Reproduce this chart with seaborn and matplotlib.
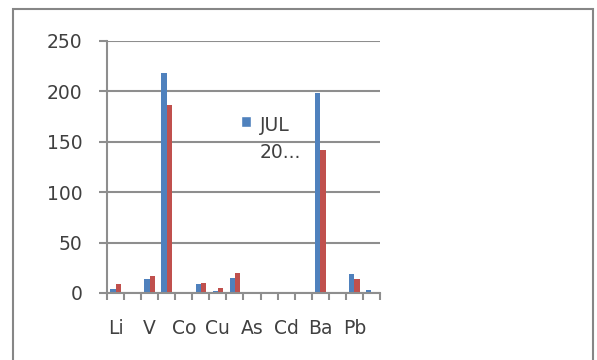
import numpy as np
import pandas as pd
import matplotlib
matplotlib.use("Agg")
import matplotlib.pyplot as plt
from matplotlib.patches import Patch, Rectangle
import seaborn as sns

# ---- data ----
elements = ["Li", "Be", "V", "Mn", "Co", "Ni", "Cu", "Zn",
            "As", "Se", "Cd", "Sb", "Ba", "Tl", "Pb", "U"]
series_1 = [4, 1, 14, 218, 1, 9, 2, 15, 1, 1, 1, 1, 198, 1, 19, 3]
series_2 = [9, 1, 17, 187, 1, 10, 5, 20, 1, 1, 1, 1, 142, 1, 14, 1]
series_names = ["JUL 20...", "Series 2"]
legend_label = "JUL\n20..."
y_ticks = [0, 50, 100, 150, 200, 250]

df = pd.DataFrame({
    "element": elements * 2,
    "value": series_1 + series_2,
    "series": [series_names[0]] * len(elements) + [series_names[1]] * len(elements),
})

BLUE = "#4F81BD"
RED = "#C0504D"
GRID = "#8E8E8E"
TXT = "#404040"

sns.set_theme(style="white")
plt.rcParams["font.family"] = ["DejaVu Sans"]

W, H = 597, 360
fig = plt.figure(figsize=(W / 100, H / 100), dpi=100)
ax = fig.add_axes([107 / W, 1 - 293 / H, (380 - 107) / W, (293 - 41) / H])

sns.barplot(data=df, x="element", y="value", hue="series", order=elements,
            hue_order=series_names, palette=[BLUE, RED], saturation=1,
            width=0.62, gap=0, linewidth=0, legend=False, ax=ax, errorbar=None)

ax.set_xlim(-0.5, len(elements) - 0.5)
ax.set_ylim(0, 250)
ax.set_yticks(y_ticks)
ax.set_yticklabels([str(v) for v in y_ticks])
ax.set_xticks(range(0, len(elements), 2))
ax.set_xticklabels(elements[::2])
ax.set_xticks(np.arange(-0.5, len(elements), 1), minor=True)
ax.set_xlabel("")
ax.set_ylabel("")

ax.yaxis.grid(True, color=GRID, linewidth=1.5)
ax.set_axisbelow(True)
for s in ["top", "right"]:
    ax.spines[s].set_visible(False)
for s in ["left", "bottom"]:
    ax.spines[s].set_color(GRID)
    ax.spines[s].set_linewidth(1.5)

ax.tick_params(axis="y", which="major", direction="out", length=6, width=1.5,
               color=GRID, pad=11.5, labelsize=13.5, labelcolor=TXT, left=True)
ax.tick_params(axis="x", which="major", length=0, pad=19, labelsize=13.5,
               labelcolor=TXT, bottom=True)
ax.tick_params(axis="x", which="minor", direction="out", length=5, width=1.5,
               color=GRID, bottom=True)

leg = ax.legend(handles=[Patch(facecolor=BLUE)], labels=[legend_label],
                loc="upper left", bbox_to_anchor=(241 / W, 1 - 116 / H),
                bbox_transform=fig.transFigure, frameon=False, fontsize=13.5,
                handlelength=0.55, handleheight=0.55, handletextpad=0.45,
                borderpad=0, borderaxespad=0, labelcolor=TXT)
for t in leg.get_texts():
    t.set_linespacing(1.55)
# put the colour square level with the first text line (as in the original)
for col in leg._legend_handle_box.get_children():
    for item in col.get_children():
        item.align = "top"

fig.patches.append(Rectangle((12.5 / W, -0.05), (593 - 12.5) / W, 1 - 9 / H + 0.05,
                             transform=fig.transFigure, fill=False,
                             edgecolor="#868686", linewidth=1.5))

fig.savefig("out.png", dpi=100, facecolor="white")
